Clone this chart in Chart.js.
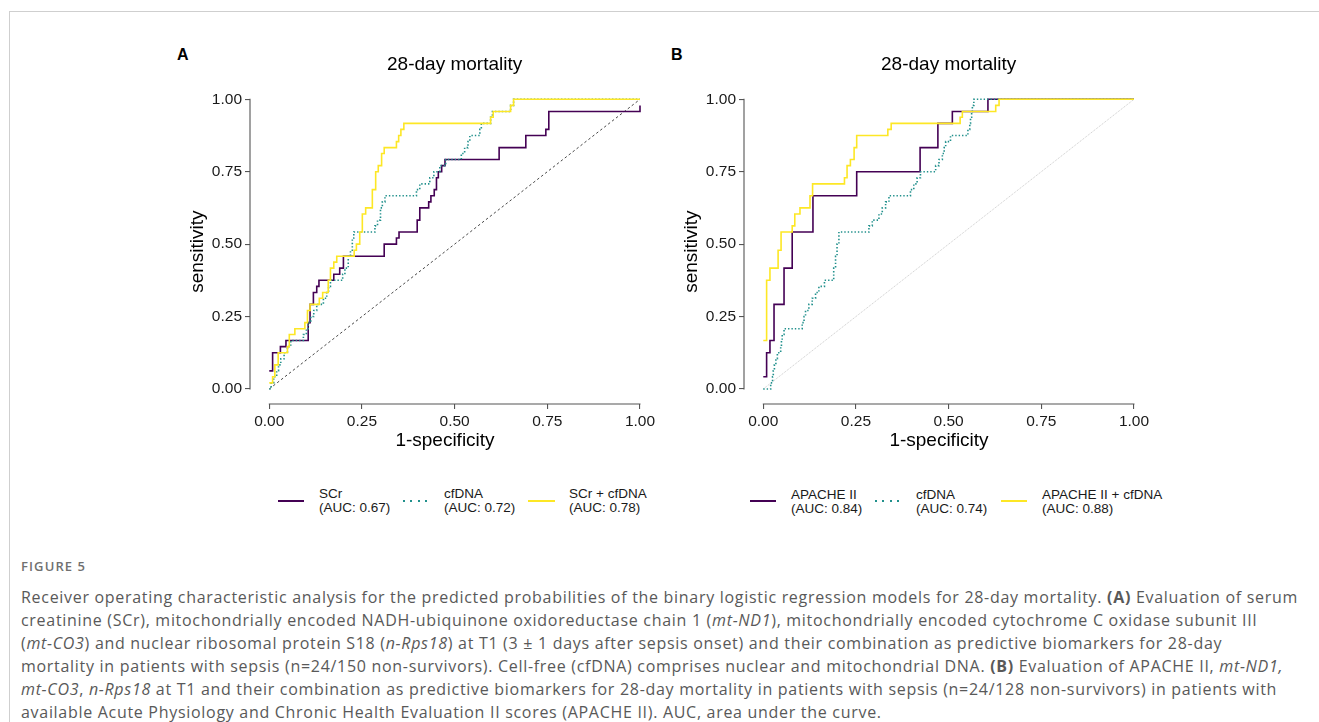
<!DOCTYPE html>
<html><head><meta charset="utf-8">
<script src="https://cdn.jsdelivr.net/npm/chart.js@4.4.1/dist/chart.umd.min.js"></script>
<style>
html,body{margin:0;padding:0;background:#fff;}
body{width:1319px;height:722px;overflow:hidden;position:relative;font-family:"Liberation Sans",Arial,sans-serif;}
.frame{position:absolute;left:9px;top:11px;right:-2px;bottom:-2px;border-left:1px solid #cfcfcf;border-top:1px solid #cfcfcf;}
canvas{position:absolute;}
.plab{position:absolute;font-weight:bold;font-size:16px;color:#000;line-height:16px;}
.leg{position:absolute;font-size:13.5px;line-height:13.5px;color:#1a1a1a;white-space:nowrap;}
.sw{position:absolute;height:2px;}
.figno{position:absolute;left:21px;top:558px;font-family:"Open Sans",sans-serif;font-size:13px;font-weight:600;letter-spacing:1.1px;color:#707070;line-height:16px;}
.cap{position:absolute;left:21px;font-family:"Open Sans",sans-serif;font-size:16px;color:#595959;line-height:20px;white-space:nowrap;}
</style></head>
<body>
<div class="frame"></div>
<div class="plab" style="left:177px;top:47px;">A</div>
<div class="plab" style="left:671px;top:47px;">B</div>
<canvas id="cA" width="492" height="420" style="left:170px;top:40px;"></canvas>
<canvas id="cB" width="492" height="420" style="left:664px;top:40px;"></canvas>

<div class="sw" style="left:278px;top:500px;width:26px;background:#440154;"></div>
<div class="leg" style="left:319px;top:487px;">SCr<br>(AUC: 0.67)</div>
<div class="sw" style="left:403px;top:500px;width:26px;background:repeating-linear-gradient(to right,#21908C 0 2px,transparent 2px 7.3px);"></div>
<div class="leg" style="left:444px;top:487px;">cfDNA<br>(AUC: 0.72)</div>
<div class="sw" style="left:528px;top:500px;width:27px;background:#FDE725;"></div>
<div class="leg" style="left:569px;top:487px;">SCr + cfDNA<br>(AUC: 0.78)</div>

<div class="sw" style="left:750px;top:500px;width:26px;background:#440154;"></div>
<div class="leg" style="left:791px;top:488px;">APACHE II<br>(AUC: 0.84)</div>
<div class="sw" style="left:875px;top:500px;width:26px;background:repeating-linear-gradient(to right,#21908C 0 2px,transparent 2px 7.3px);"></div>
<div class="leg" style="left:916px;top:488px;">cfDNA<br>(AUC: 0.74)</div>
<div class="sw" style="left:1001px;top:500px;width:26px;background:#FDE725;"></div>
<div class="leg" style="left:1042px;top:488px;">APACHE II + cfDNA<br>(AUC: 0.88)</div>

<div class="figno">FIGURE 5</div>
<div class="cap" style="top:587px;">Receiver operating characteristic analysis for the predicted probabilities of the binary logistic regression models for 28-day mortality. <b>(A)</b> Evaluation of serum</div>
<div class="cap" style="top:610px;">creatinine (SCr), mitochondrially encoded NADH-ubiquinone oxidoreductase chain 1 (<i>mt-ND1</i>), mitochondrially encoded cytochrome C oxidase subunit III</div>
<div class="cap" style="top:633px;">(<i>mt-CO3</i>) and nuclear ribosomal protein S18 (<i>n-Rps18</i>) at T1 (3 ± 1 days after sepsis onset) and their combination as predictive biomarkers for 28-day</div>
<div class="cap" style="top:656px;">mortality in patients with sepsis (n=24/150 non-survivors). Cell-free (cfDNA) comprises nuclear and mitochondrial DNA. <b>(B)</b> Evaluation of APACHE II, <i>mt-ND1,</i></div>
<div class="cap" style="top:679px;"><i>mt-CO3</i>, <i>n-Rps18</i> at T1 and their combination as predictive biomarkers for 28-day mortality in patients with sepsis (n=24/128 non-survivors) in patients with</div>
<div class="cap" style="top:702px;">available Acute Physiology and Chronic Health Evaluation II scores (APACHE II). AUC, area under the curve.</div>

<script>
// ---------- data ----------
const tickValues = [0, 0.25, 0.5, 0.75, 1];
const tickLabels = ["0.00", "0.25", "0.50", "0.75", "1.00"];
const panelTitle = "28-day mortality";
const xTitle = "1-specificity";
const yTitle = "sensitivity";
const diagX = [0, 1];
const diagY = [0, 1];

// Panel A: SCr
const fprA_SCr  = [0, 0.009, 0.030, 0.045, 0.105, 0.110, 0.119, 0.128, 0.134, 0.174, 0.190, 0.200, 0.310, 0.343, 0.350, 0.399, 0.406, 0.430, 0.436, 0.445, 0.451, 0.456, 0.465, 0.474, 0.620, 0.692, 0.746, 0.754, 1.000];
const sensA_SCr = [0.0625, 0.125, 0.146, 0.167, 0.229, 0.292, 0.333, 0.354, 0.375, 0.396, 0.417, 0.458, 0.500, 0.521, 0.542, 0.583, 0.625, 0.646, 0.667, 0.688, 0.729, 0.750, 0.771, 0.792, 0.833, 0.875, 0.896, 0.958, 0.979];
// Panel A: cfDNA
const fprA_cf  = [0, 0.005, 0.012, 0.020, 0.025, 0.031, 0.040, 0.049, 0.058, 0.092, 0.100, 0.105, 0.112, 0.120, 0.128, 0.146, 0.155, 0.160, 0.165, 0.198, 0.204, 0.213, 0.219, 0.224, 0.228, 0.285, 0.292, 0.300, 0.305, 0.312, 0.397, 0.406, 0.433, 0.444, 0.460, 0.476, 0.518, 0.527, 0.536, 0.541, 0.568, 0.572, 0.597, 0.602, 0.651, 0.659, 1.000];
const sensA_cf = [0, 0.021, 0.042, 0.063, 0.083, 0.104, 0.125, 0.146, 0.167, 0.188, 0.208, 0.229, 0.250, 0.271, 0.292, 0.313, 0.333, 0.354, 0.375, 0.396, 0.417, 0.458, 0.479, 0.521, 0.542, 0.563, 0.583, 0.625, 0.646, 0.667, 0.688, 0.708, 0.729, 0.750, 0.771, 0.792, 0.813, 0.833, 0.854, 0.875, 0.896, 0.917, 0.938, 0.958, 0.979, 1.000, 1.000];
// Panel A: SCr + cfDNA
const fprA_comb  = [0, 0.009, 0.015, 0.024, 0.049, 0.054, 0.069, 0.096, 0.103, 0.110, 0.135, 0.144, 0.159, 0.165, 0.174, 0.182, 0.229, 0.235, 0.244, 0.251, 0.260, 0.278, 0.287, 0.294, 0.303, 0.310, 0.343, 0.349, 0.355, 0.363, 0.597, 0.604, 0.651, 0.659, 1.000];
const sensA_comb = [0.021, 0.042, 0.083, 0.125, 0.146, 0.188, 0.208, 0.229, 0.271, 0.292, 0.313, 0.333, 0.375, 0.417, 0.438, 0.458, 0.479, 0.500, 0.542, 0.604, 0.625, 0.688, 0.750, 0.771, 0.813, 0.833, 0.854, 0.875, 0.896, 0.917, 0.938, 0.958, 0.979, 1.000, 1.000];

// Panel B: APACHE II
const fprB_AP  = [0, 0.009, 0.018, 0.029, 0.056, 0.078, 0.134, 0.252, 0.423, 0.471, 0.510, 0.606, 1.000];
const sensB_AP = [0.042, 0.125, 0.167, 0.292, 0.417, 0.542, 0.667, 0.750, 0.833, 0.917, 0.958, 1.000, 1.000];
// Panel B: cfDNA
const fprB_cf  = [0, 0.020, 0.025, 0.027, 0.030, 0.034, 0.038, 0.047, 0.049, 0.051, 0.056, 0.105, 0.110, 0.114, 0.123, 0.132, 0.141, 0.150, 0.165, 0.190, 0.195, 0.199, 0.204, 0.285, 0.294, 0.312, 0.321, 0.330, 0.339, 0.397, 0.406, 0.415, 0.424, 0.465, 0.474, 0.483, 0.488, 0.492, 0.505, 0.552, 0.557, 0.559, 0.562, 0.564, 0.568, 1.000];
const sensB_cf = [0, 0.021, 0.042, 0.063, 0.083, 0.104, 0.125, 0.146, 0.167, 0.188, 0.208, 0.229, 0.250, 0.271, 0.292, 0.313, 0.333, 0.354, 0.375, 0.417, 0.458, 0.500, 0.542, 0.563, 0.583, 0.604, 0.625, 0.646, 0.667, 0.688, 0.708, 0.729, 0.750, 0.771, 0.792, 0.813, 0.833, 0.854, 0.875, 0.896, 0.917, 0.938, 0.958, 0.979, 1.000, 1.000];
// Panel B: APACHE II + cfDNA
const fprB_comb  = [0, 0.009, 0.018, 0.040, 0.048, 0.078, 0.085, 0.099, 0.126, 0.133, 0.219, 0.226, 0.235, 0.245, 0.252, 0.336, 0.345, 0.531, 0.537, 0.627, 0.636, 1.000];
const sensB_comb = [0.167, 0.375, 0.417, 0.479, 0.542, 0.563, 0.604, 0.625, 0.667, 0.708, 0.729, 0.771, 0.792, 0.833, 0.875, 0.896, 0.917, 0.938, 0.958, 0.979, 1.000, 1.000];

// ---------- styles ----------
const PURPLE = "#440154", TEAL = "#21908C", YELLOW = "#FDE725";
const FONT = "'Liberation Sans', Arial, sans-serif";
const pts = (xs, ys) => xs.map((x, i) => ({x: x, y: ys[i]}));

const axisLines = {
  id: "axisLines",
  afterDraw(chart) {
    const {ctx, chartArea: a, scales: {x, y}} = chart;
    ctx.save();
    ctx.strokeStyle = "#555";
    ctx.lineWidth = 1.1;
    ctx.beginPath();
    ctx.moveTo(a.left, y.getPixelForValue(0) + 0.5);
    ctx.lineTo(a.left, y.getPixelForValue(1) - 0.5);
    ctx.moveTo(x.getPixelForValue(0) - 0.5, a.bottom);
    ctx.lineTo(x.getPixelForValue(1) + 0.5, a.bottom);
    ctx.stroke();
    // panel title centred over the data range
    ctx.fillStyle = "#000";
    ctx.font = "19px " + FONT;
    ctx.textAlign = "center";
    ctx.textBaseline = "middle";
    ctx.fillText(panelTitle, (x.getPixelForValue(0) + x.getPixelForValue(1)) / 2, 25);
    ctx.restore();
  }
};

function scaleOpts(isX) {
  return {
    type: "linear",
    min: -0.052,
    max: 1,
    afterBuildTicks: s => { s.ticks = tickValues.map(v => ({value: v})); },
    afterFit: s => { if (isX) s.height = 52.4; else s.width = 68; },
    border: {display: false},
    grid: {drawOnChartArea: false, drawTicks: true, tickLength: 5, tickColor: "#555", lineWidth: 1.1},
    ticks: {
      padding: 3, maxRotation: 0, autoSkip: false, color: "#1a1a1a",
      font: {family: FONT, size: 15.5},
      callback: v => tickLabels[tickValues.indexOf(v)]
    },
    title: {display: true, text: isX ? xTitle : yTitle, color: "#000", font: {family: FONT, size: 19}, padding: {top: 4, bottom: 4}}
  };
}

function makeChart(id, series, diagStyle) {
  const datasets = [
    {data: pts(series[2][0], series[2][1]), borderColor: YELLOW, borderWidth: 1.6, stepped: "before", order: 0},
    {data: pts(series[1][0], series[1][1]), borderColor: TEAL, borderWidth: 1.6, borderDash: [1.4, 2], stepped: "before", order: 1},
    {data: pts(series[0][0], series[0][1]), borderColor: PURPLE, borderWidth: 1.6, stepped: "before", order: 2},
    Object.assign({data: pts(diagX, diagY), order: 3}, diagStyle)
  ].map(d => Object.assign({showLine: true, pointRadius: 0, fill: false, clip: false, tension: 0}, d));
  new Chart(document.getElementById(id), {
    type: "scatter",
    data: {datasets: datasets},
    plugins: [axisLines],
    options: {
      responsive: false, animation: false, devicePixelRatio: 1,
      layout: {padding: {left: 12, right: 22, top: 59.3, bottom: 3.6}},
      plugins: {legend: {display: false}, tooltip: {enabled: false}, title: {display: false}},
      scales: {x: scaleOpts(true), y: scaleOpts(false)}
    }
  });
}

makeChart("cA", [[fprA_SCr, sensA_SCr], [fprA_cf, sensA_cf], [fprA_comb, sensA_comb]],
  {borderColor: "#333", borderWidth: 0.9, borderDash: [2.5, 2.5]});
makeChart("cB", [[fprB_AP, sensB_AP], [fprB_cf, sensB_cf], [fprB_comb, sensB_comb]],
  {borderColor: "#bdbdbd", borderWidth: 0.8, borderDash: [1, 1]});

// fit caption lines to the reference text block width
(function () {
  const caps = document.querySelectorAll(".cap");
  const first = caps[0];
  const w = first.getBoundingClientRect().width;
  const n = first.textContent.length;
  const ls = (1277 - w) / n;
  caps.forEach(c => { c.style.letterSpacing = ls.toFixed(3) + "px"; });
})();
</script>
</body></html>
